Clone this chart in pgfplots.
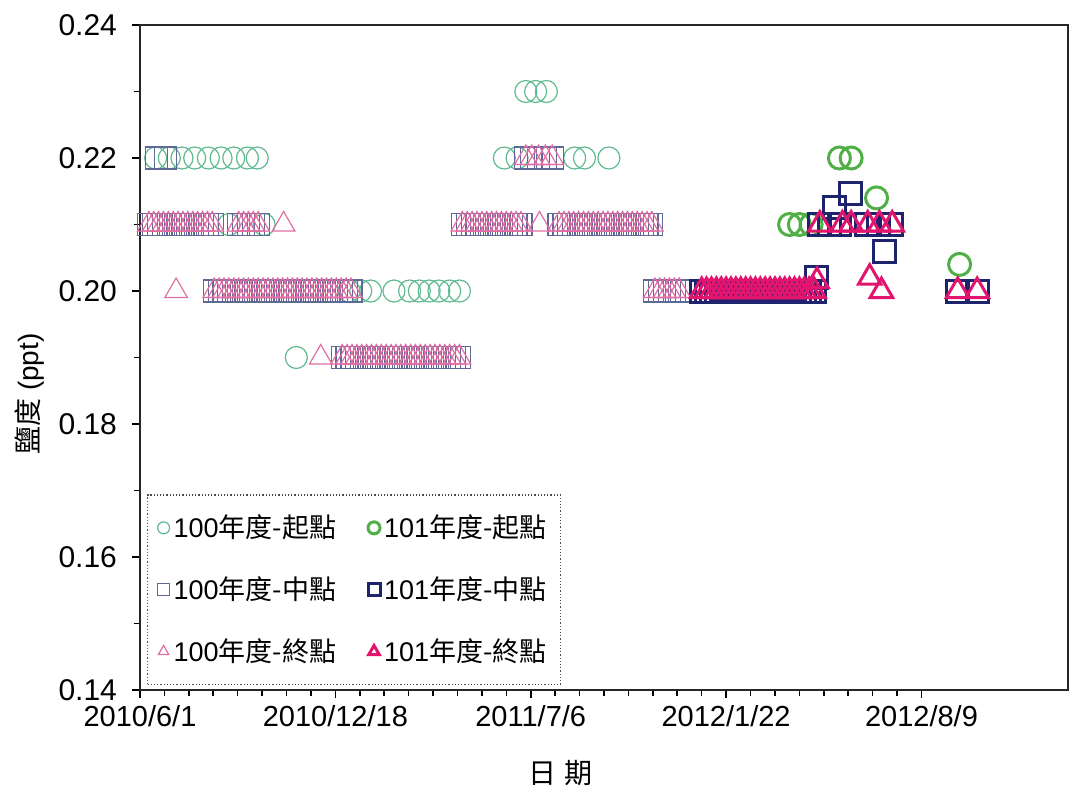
\documentclass[border=0pt]{standalone}
\usepackage{pgfplots}
\pgfplotsset{compat=1.18}
\usepackage{fontspec}
\setmainfont{Liberation Sans}
\newfontfamily\cjk{Noto Sans CJK TC}
\usetikzlibrary{calc}

\definecolor{cAs}{RGB}{95,185,145}   % 100 start
\definecolor{cBs}{RGB}{80,175,70}    % 101 start
\definecolor{cAm}{RGB}{95,105,150}   % 100 mid
\definecolor{cBm}{RGB}{30,35,110}    % 101 mid
\definecolor{cAe}{RGB}{225,110,165}  % 100 end
\definecolor{cBe}{RGB}{225,20,110}   % 101 end

\begin{document}
\begin{tikzpicture}
\begin{axis}[
    scale only axis,
    width=464pt, height=332.5pt,
    xmin=0, xmax=950,
    ymin=0.14, ymax=0.24,
    xtick={0,200,400,600,800},
    xticklabels={2010/6/1,2010/12/18,2011/7/6,2012/1/22,2012/8/9},
    minor x tick num=7,
    ytick={0.14,0.16,0.18,0.20,0.22,0.24},
    minor y tick num=1,
    yticklabel style={/pgf/number format/fixed, /pgf/number format/fixed zerofill,
        /pgf/number format/precision=2, /pgf/number format/assume math mode=true,
        font=\fontsize{15}{17}\selectfont, xshift=-4pt},
    xticklabel style={font=\fontsize{14.5}{17}\selectfont},
    tick pos=left, tick align=outside,
    major tick length=4pt, minor tick length=3pt,
    tick style={black, line width=0.8pt},
    axis line style={line width=1pt, black!85},
    every axis y label/.style={at={(axis description cs:-0.1185,0.445)}, rotate=90},
    every axis x label/.style={at={(axis description cs:0.4526,0)}, yshift=-41.5pt},
    ylabel={\fontsize{14}{15}\selectfont{\cjk 鹽度} (ppt)},
    xlabel={\fontsize{14}{15}\selectfont\cjk 日\hspace{4pt}期},
    legend columns=2,
    legend cell align=left,
    legend style={at={(0,0)}, anchor=south west, xshift=3.5pt, yshift=2.5pt,
        draw=black!70, densely dotted, line width=0.6pt,
        font=\fontsize{13.5}{15}\selectfont, row sep=14pt,
        inner xsep=5pt, inner ysep=8pt,
        /tikz/every even column/.append style={column sep=14pt}},
    legend image code/.code={\draw[#1, solid, mark size=3pt] plot coordinates {(0.12cm,0cm)};},
    clip=false,
]
\coordinate (sw) at (rel axis cs:0,0);
\coordinate (ne) at (rel axis cs:1,1);

% 100年度-起點
\addplot[only marks, mark=o, cAs, line width=0.6pt, mark size=5.5pt] coordinates {
(16,0.22)(30,0.22)(43,0.22)(56,0.22)(70,0.22)(83,0.22)(96,0.22)(110,0.22)(120,0.22)
(91,0.21)(127,0.21)
(160,0.19)
(214,0.20)(226,0.20)(236,0.20)(260,0.20)(276,0.20)(286,0.20)(296,0.20)(306,0.20)(317,0.20)(327,0.20)
(373,0.22)(386,0.22)(445,0.22)(455,0.22)(480,0.22)
(395,0.23)(405,0.23)(416,0.23)
};
\addlegendentry{100{\cjk 年度-起點}}

% 101年度-起點
\addplot[only marks, mark=o, cBs, line width=1.5pt, mark size=5.5pt] coordinates {
(665,0.21)(675,0.21)(687,0.21)(716,0.22)(728,0.22)(754,0.214)(839,0.204)
};
\addlegendentry{101{\cjk 年度-起點}}

% 100年度-中點
\addplot[only marks, mark=square, cAm, line width=0.6pt, mark size=5.5pt] coordinates {
(17,0.22)(26,0.22)
(9,0.21)(14,0.21)(19,0.21)(24,0.21)(29,0.21)(34,0.21)(39,0.21)(44,0.21)(49,0.21)(54,0.21)(59,0.21)(64,0.21)(69,0.21)(74,0.21)
(101,0.21)(106,0.21)(111,0.21)(116,0.21)(121,0.21)
(76,0.20)(81,0.20)(86,0.20)(91,0.20)(96,0.20)(101,0.20)(106,0.20)(111,0.20)(116,0.20)(121,0.20)
(126,0.20)(131,0.20)(136,0.20)(141,0.20)(146,0.20)(151,0.20)(156,0.20)(161,0.20)(166,0.20)(171,0.20)
(176,0.20)(181,0.20)(186,0.20)(191,0.20)(196,0.20)(201,0.20)(206,0.20)(211,0.20)(216,0.20)
(207,0.19)(212,0.19)(217,0.19)(222,0.19)(227,0.19)(232,0.19)(237,0.19)(242,0.19)(247,0.19)(252,0.19)
(257,0.19)(262,0.19)(267,0.19)(272,0.19)(277,0.19)(282,0.19)(287,0.19)(292,0.19)(297,0.19)(302,0.19)
(307,0.19)(312,0.19)(317,0.19)(322,0.19)(327,0.19)
(395,0.22)(401,0.22)(408,0.22)(415,0.22)(422,0.22)
(330,0.21)(335,0.21)(340,0.21)(345,0.21)(350,0.21)(355,0.21)(360,0.21)(365,0.21)(370,0.21)(375,0.21)
(380,0.21)(385,0.21)(390,0.21)
(429,0.21)(434,0.21)(439,0.21)(444,0.21)(449,0.21)(454,0.21)(459,0.21)(464,0.21)(469,0.21)(474,0.21)
(479,0.21)(484,0.21)(489,0.21)(494,0.21)(499,0.21)(504,0.21)(509,0.21)(514,0.21)(519,0.21)(524,0.21)
(527,0.20)(532,0.20)(537,0.20)(542,0.20)(547,0.20)(552,0.20)
};
\addlegendentry{100{\cjk 年度-中點}}

% 101年度-中點
\addplot[only marks, mark=square, cBm, line width=1.5pt, mark size=5.5pt] coordinates {
(575,0.20)(580,0.20)(585,0.20)(590,0.20)(595,0.20)(600,0.20)(605,0.20)(610,0.20)(615,0.20)(620,0.20)
(625,0.20)(630,0.20)(635,0.20)(640,0.20)(645,0.20)(650,0.20)(655,0.20)(660,0.20)(665,0.20)(670,0.20)
(675,0.20)(680,0.20)(685,0.20)(690,0.20)
(693,0.202)
(696,0.21)(706,0.21)(716,0.21)(744,0.21)(756,0.21)(769,0.21)
(711,0.2126)(727,0.2147)
(762,0.206)
(837,0.20)(857,0.20)
};
\addlegendentry{101{\cjk 年度-中點}}

% 100年度-終點
\addplot[only marks, mark=triangle, cAe, line width=0.6pt, mark size=6.5pt] coordinates {
(9,0.21)(14,0.21)(19,0.21)(24,0.21)(29,0.21)(34,0.21)(39,0.21)(44,0.21)(49,0.21)(54,0.21)(59,0.21)(64,0.21)(69,0.21)(74,0.21)
(101,0.21)(106,0.21)(111,0.21)(116,0.21)(121,0.21)(147,0.21)
(37,0.20)
(76,0.20)(81,0.20)(86,0.20)(91,0.20)(96,0.20)(101,0.20)(106,0.20)(111,0.20)(116,0.20)(121,0.20)
(126,0.20)(131,0.20)(136,0.20)(141,0.20)(146,0.20)(151,0.20)(156,0.20)(161,0.20)(166,0.20)(171,0.20)
(176,0.20)(181,0.20)(186,0.20)(191,0.20)(196,0.20)(201,0.20)(206,0.20)(211,0.20)(216,0.20)
(185,0.19)
(207,0.19)(212,0.19)(217,0.19)(222,0.19)(227,0.19)(232,0.19)(237,0.19)(242,0.19)(247,0.19)(252,0.19)
(257,0.19)(262,0.19)(267,0.19)(272,0.19)(277,0.19)(282,0.19)(287,0.19)(292,0.19)(297,0.19)(302,0.19)
(307,0.19)(312,0.19)(317,0.19)(322,0.19)(327,0.19)
(395,0.22)(401,0.22)(408,0.22)(415,0.22)(422,0.22)
(330,0.21)(335,0.21)(340,0.21)(345,0.21)(350,0.21)(355,0.21)(360,0.21)(365,0.21)(370,0.21)(375,0.21)
(380,0.21)(385,0.21)(390,0.21)(409,0.21)
(429,0.21)(434,0.21)(439,0.21)(444,0.21)(449,0.21)(454,0.21)(459,0.21)(464,0.21)(469,0.21)(474,0.21)
(479,0.21)(484,0.21)(489,0.21)(494,0.21)(499,0.21)(504,0.21)(509,0.21)(514,0.21)(519,0.21)(524,0.21)
(527,0.20)(532,0.20)(537,0.20)(542,0.20)(547,0.20)(552,0.20)
};
\addlegendentry{100{\cjk 年度-終點}}

% 101年度-終點
\addplot[only marks, mark=triangle, cBe, line width=1.5pt, mark size=6.5pt] coordinates {
(575,0.20)(580,0.20)(585,0.20)(590,0.20)(595,0.20)(600,0.20)(605,0.20)(610,0.20)(615,0.20)(620,0.20)
(625,0.20)(630,0.20)(635,0.20)(640,0.20)(645,0.20)(650,0.20)(655,0.20)(660,0.20)(665,0.20)(670,0.20)
(675,0.20)(680,0.20)(685,0.20)(690,0.20)
(693,0.2015)
(696,0.21)(719,0.21)(728,0.21)(745,0.21)(757,0.21)(770,0.21)
(747,0.202)(759,0.200)
(837,0.20)(857,0.20)
};
\addlegendentry{101{\cjk 年度-終點}}
\end{axis}
\pgfresetboundingbox
\path[use as bounding box] ($(sw)+(-70pt,-51.5pt)$) rectangle ($(ne)+(2.5pt,12.5pt)$);
\end{tikzpicture}
\end{document}
